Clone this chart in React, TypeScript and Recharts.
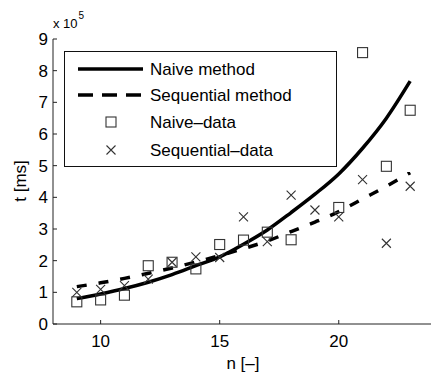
import { ComposedChart, Legend, Line, Scatter, XAxis, YAxis } from "recharts";

const FONT = '"Liberation Sans", Arial, Helvetica, sans-serif';

// fitted curves (t in ms)
const fitN = [9, 10, 11, 12, 13, 14, 15, 16, 17, 18, 19, 20, 21, 22, 23];
const naiveFit = [
  80000, 95000, 112000, 132000, 156000, 184000, 212000, 252000, 297000,
  352000, 410000, 474000, 555000, 650000, 767000,
];
const sequentialFit = [
  118000, 130000, 144000, 160000, 177000, 196000, 216000, 238000, 262000,
  292000, 322000, 355000, 395000, 435000, 478000,
];

// measured points
const naiveN = [9, 10, 11, 12, 13, 14, 15, 16, 17, 18, 20, 21, 22, 23];
const naiveTimes = [
  70000, 76000, 91000, 184000, 195000, 174000, 251000, 265000, 290000,
  266000, 368000, 857000, 498000, 675000,
];
const sequentialN = [9, 10, 11, 12, 13, 14, 15, 16, 17, 18, 19, 20, 21, 22, 23];
const sequentialTimes = [
  100000, 109000, 121000, 142000, 195000, 212000, 210000, 338000, 260000,
  407000, 360000, 338000, 456000, 255000, 435000,
];

const xTicks = [10, 15, 20];
const yTicks = [0, 100000, 200000, 300000, 400000, 500000, 600000, 700000, 800000, 900000];

const naiveLine = fitN.map((n, i) => ({ n, t: naiveFit[i] }));
const sequentialLine = fitN.map((n, i) => ({ n, t: sequentialFit[i] }));
const naivePoints = naiveN.map((n, i) => ({ n, t: naiveTimes[i] }));
const sequentialPoints = sequentialN.map((n, i) => ({ n, t: sequentialTimes[i] }));

const INK = "#222";
const DASH = "10 12";

const SquareMark = (props: any) => {
  const { cx, cy } = props;
  return <rect x={cx - 5} y={cy - 5} width={10} height={10} fill="none" stroke="#333" strokeWidth={1.1} />;
};

const CrossMark = (props: any) => {
  const { cx, cy } = props;
  const h = 4.5;
  return (
    <path
      d={`M${cx - h},${cy - h}L${cx + h},${cy + h}M${cx + h},${cy - h}L${cx - h},${cy + h}`}
      stroke="#333"
      strokeWidth={1.1}
      fill="none"
    />
  );
};

const legendRows = [
  { label: "Naive method", kind: "solid" },
  { label: "Sequential method", kind: "dashed" },
  { label: "Naive\u2013data", kind: "square" },
  { label: "Sequential\u2013data", kind: "cross" },
];
const rowY = [17, 43, 70, 98];

function LegendBox() {
  return (
    <div
      style={{
        width: 273,
        height: 116,
        boxSizing: "border-box",
        border: "1.5px solid #111",
        background: "#fff",
      }}
    >
      <svg width={270} height={113} style={{ display: "block" }}>
        {legendRows.map((r, i) => {
          const y = rowY[i];
          let mark = null;
          if (r.kind === "solid")
            mark = <line x1={13} x2={78} y1={y} y2={y} stroke="#000" strokeWidth={3.5} />;
          if (r.kind === "dashed")
            mark = <line x1={13} x2={78} y1={y} y2={y} stroke="#000" strokeWidth={3.5} strokeDasharray="15 9" />;
          if (r.kind === "square") mark = <SquareMark cx={46} cy={y} />;
          if (r.kind === "cross") mark = <CrossMark cx={46} cy={y} />;
          return (
            <g key={r.label}>
              {mark}
              <text x={85} y={y + 6} fontSize={17} fontFamily={FONT} fill="#000">
                {r.label}
              </text>
            </g>
          );
        })}
      </svg>
    </div>
  );
}

const YLabel = () => (
  <g fontFamily={FONT} fill="#000">
    <text x={20} y={181} fontSize={17} textAnchor="middle" transform="rotate(-90 20 181)" dominantBaseline="central">
      t [ms]
    </text>
    <text x={53} y={28} fontSize={13}>
      <tspan>x 10</tspan>
      <tspan dx={1} dy={-9} fontSize={10}>
        5
      </tspan>
    </text>
  </g>
);

const XLabel = () => (
  <text x={243} y={369} fontSize={17} textAnchor="middle" fontFamily={FONT} fill="#000">
    n [{"\u2013"}]
  </text>
);

export default function App() {
  return (
    <div style={{ position: "absolute", left: 0, top: 0, width: 431, height: 374, background: "#fff" }}>
      <ComposedChart width={431} height={374} margin={{ top: 39, right: -3, bottom: 0, left: 0 }}>
        <XAxis
          dataKey="n"
          type="number"
          domain={[8, 24]}
          ticks={xTicks}
          height={50}
          allowDataOverflow
          stroke={INK}
          tickSize={-4}
          tickMargin={15}
          tick={{ fill: "#000", fontSize: 17, fontFamily: FONT }}
          label={{ content: XLabel }}
        />
        <YAxis
          dataKey="t"
          type="number"
          domain={[0, 900000]}
          ticks={yTicks}
          width={53}
          allowDataOverflow
          stroke={INK}
          tickSize={-4}
          tickMargin={9}
          tickFormatter={(v: number) => `${v / 100000}`}
          tick={{ fill: "#000", fontSize: 17, fontFamily: FONT }}
          label={{ content: YLabel }}
        />
        <Legend
          layout="vertical"
          align="center"
          verticalAlign="middle"
          content={() => <LegendBox />}
          wrapperStyle={{ position: "absolute", left: 64, top: 51, width: 273, height: 116 }}
        />
        <Line
          data={naiveLine}
          dataKey="t"
          type="monotone"
          stroke="#000"
          strokeWidth={3.5}
          dot={false}
          activeDot={false}
          isAnimationActive={false}
        />
        <Line
          data={sequentialLine}
          dataKey="t"
          type="monotone"
          stroke="#000"
          strokeWidth={3.5}
          strokeDasharray={DASH}
          dot={false}
          activeDot={false}
          isAnimationActive={false}
        />
        <Scatter data={naivePoints} dataKey="t" shape={SquareMark} isAnimationActive={false} />
        <Scatter data={sequentialPoints} dataKey="t" shape={CrossMark} isAnimationActive={false} />
      </ComposedChart>
    </div>
  );
}
